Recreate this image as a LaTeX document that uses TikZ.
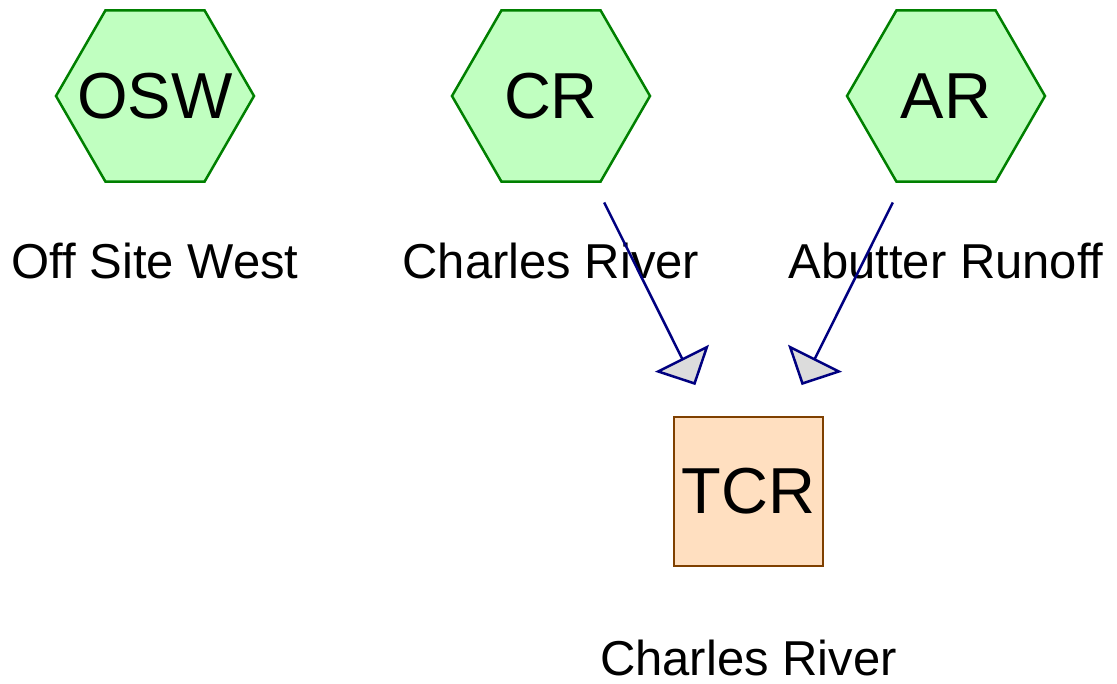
\documentclass[tikz,border=0pt]{standalone}
\usepackage{fontspec}
\setmainfont{Liberation Sans}
\usetikzlibrary{shapes.geometric,arrows.meta}
\definecolor{hexfill}{HTML}{C0FFC0}
\definecolor{hexline}{HTML}{008000}
\definecolor{boxfill}{HTML}{FFDFC0}
\definecolor{boxline}{HTML}{7F4000}
\definecolor{flow}{HTML}{000080}
\definecolor{tipfill}{HTML}{DCDCDC}
\begin{document}
\begin{tikzpicture}[x=1pt,y=-1pt,
  pond/.style={regular polygon, regular polygon sides=6, minimum size=198pt,
    inner sep=-60pt, outer sep=0pt, draw=hexline, fill=hexfill, line width=2.5pt,
    font=\fontsize{65}{78}\selectfont},
  reach/.style={rectangle, minimum size=149pt, inner sep=0pt, outer sep=0pt,
    draw=boxline, fill=boxfill, line width=2.5pt, font=\fontsize{65}{78}\selectfont},
  caption/.style={anchor=base, inner sep=0pt, font=\fontsize{49}{59}\selectfont},
  link/.style={draw=flow, line width=2.5pt,
    -{Triangle[length=30pt,width=60pt,fill=tipfill]},
    shorten <=119pt, shorten >=119pt}]
  \useasboundingbox (0,0) rectangle (1117,684);

  % subcatchments
  \node[pond] (OSW) at (155,96) {OSW};
  \node[pond] (CR)  at (551,96) {CR};
  \node[pond] (AR)  at (946,96) {AR};
  % reach
  \node[reach] (TCR) at (748.5,491.5) {TCR};

  % captions
  \node[caption] (lOSW) at (155,279) {Off Site West};
  \node[caption] (lCR)  at (551,279) {Charles River};
  \node[caption] (lAR)  at (946,279) {Abutter Runoff};
  \node[caption] (lTCR) at (748.5,675) {Charles River};

  % flow links
  \draw[link] (CR.center) -- (TCR.center);
  \draw[link] (AR.center) -- (TCR.center);
\end{tikzpicture}
\end{document}
